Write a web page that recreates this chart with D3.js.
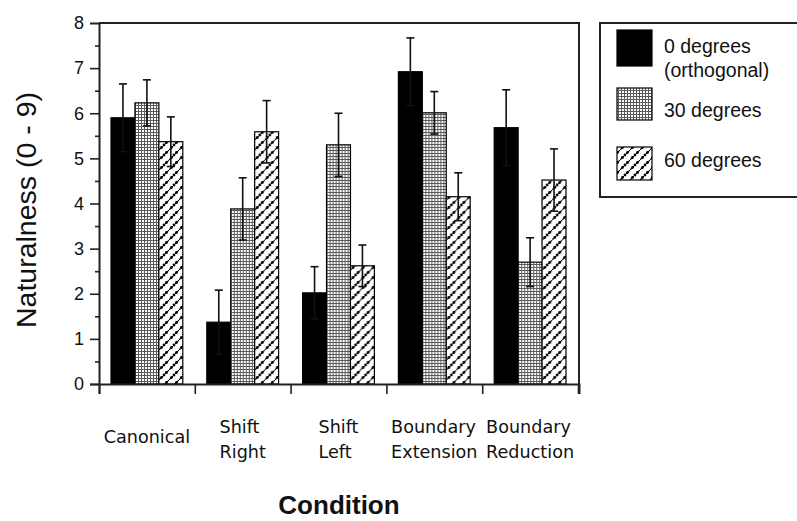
<!DOCTYPE html>
<html>
<head>
<meta charset="utf-8">
<script src="https://cdn.jsdelivr.net/npm/d3@7"></script>
<style>
  body { margin: 0; background: #fff; }
  text { fill: #111; }
</style>
</head>
<body>
<div id="chart"></div>
<script>
// data
const categories = ["Canonical", "Shift Right", "Shift Left", "Boundary Extension", "Boundary Reduction"];
const categoryLines = [["Canonical"], ["Shift", "Right"], ["Shift", "Left"], ["Boundary", "Extension"], ["Boundary", "Reduction"]];
const seriesNames = ["0 degrees", "30 degrees", "60 degrees"];
const legendLines = [["0 degrees", "(orthogonal)"], ["30 degrees"], ["60 degrees"]];

const means0 = [5.90, 1.37, 2.02, 6.92, 5.68];
const errs0 = [0.75, 0.71, 0.58, 0.75, 0.84];
const means30 = [6.23, 3.88, 5.30, 6.01, 2.70];
const errs30 = [0.51, 0.69, 0.70, 0.47, 0.54];
const means60 = [5.37, 5.59, 2.62, 4.15, 4.52];
const errs60 = [0.55, 0.69, 0.46, 0.53, 0.69];

const yTicks = [0, 1, 2, 3, 4, 5, 6, 7, 8];

const width = 797;
const height = 521;
const margin = {left: 99, right: 218, top: 23, bottom: 137};

let svg = d3.select('#chart')
    .append('svg')
    .attr('width', width)
    .attr('height', height);

// fill patterns
let defs = svg.append('defs');

let grid = defs.append('pattern')
    .attr('id', 'grid')
    .attr('patternUnits', 'userSpaceOnUse')
    .attr('width', 3)
    .attr('height', 3);
grid.append('rect').attr('width', 3).attr('height', 3).attr('fill', '#5a5a5a');
grid.append('rect').attr('x', 1).attr('y', 1).attr('width', 2).attr('height', 2).attr('fill', '#fff');

let hatch = defs.append('pattern')
    .attr('id', 'hatch')
    .attr('patternUnits', 'userSpaceOnUse')
    .attr('width', 10)
    .attr('height', 10);
hatch.append('rect').attr('width', 10).attr('height', 10).attr('fill', '#fff');
hatch.append('path')
    .attr('d', 'M-1,11 L11,-1 M-6,6 L6,-6 M4,16 L16,4')
    .attr('stroke', '#000')
    .attr('stroke-width', 1);
[[2.5, 7.5], [7.5, 2.5], [0, 10], [10, 0], [5, 5]].forEach(function(p) {
    hatch.append('circle').attr('cx', p[0]).attr('cy', p[1]).attr('r', 1.4).attr('fill', '#000');
});

const fills = ['#000', 'url(#grid)', 'url(#hatch)'];

// table built from the arrays
let table = categories.map(function(c, i) {
    return {
        category: c,
        lines: categoryLines[i],
        values: [
            {series: 0, mean: means0[i], err: errs0[i]},
            {series: 1, mean: means30[i], err: errs30[i]},
            {series: 2, mean: means60[i], err: errs60[i]}
        ]
    };
});

let x0 = d3.scaleBand()
    .domain(categories)
    .range([margin.left, width - margin.right - 1]);

let x1 = d3.scaleBand()
    .domain([0, 1, 2])
    .range([12, x0.bandwidth() - 12]);

let y = d3.scaleLinear()
    .domain([0, 8])
    .range([height - margin.bottom, margin.top]);

// bars
let groups = svg.append('g')
    .selectAll('g')
    .data(table)
    .join('g')
    .attr('transform', d => `translate(${x0(d.category)},0)`);

groups.selectAll('rect')
    .data(d => d.values)
    .join('rect')
    .attr('x', d => x1(d.series))
    .attr('y', d => y(d.mean))
    .attr('width', x1.bandwidth())
    .attr('height', d => y(0) - y(d.mean))
    .attr('fill', d => fills[d.series])
    .attr('stroke', '#000')
    .attr('stroke-width', 1.2);

// error bars
let eb = groups.selectAll('.err')
    .data(d => d.values)
    .join('g')
    .attr('class', 'err')
    .attr('stroke', '#111')
    .attr('stroke-width', 1.6);

eb.append('line')
    .attr('x1', d => x1(d.series) + x1.bandwidth() / 2)
    .attr('x2', d => x1(d.series) + x1.bandwidth() / 2)
    .attr('y1', d => y(d.mean - d.err))
    .attr('y2', d => y(d.mean + d.err));

eb.append('line')
    .attr('x1', d => x1(d.series) + x1.bandwidth() / 2 - 4)
    .attr('x2', d => x1(d.series) + x1.bandwidth() / 2 + 4)
    .attr('y1', d => y(d.mean + d.err))
    .attr('y2', d => y(d.mean + d.err));

eb.append('line')
    .attr('x1', d => x1(d.series) + x1.bandwidth() / 2 - 4)
    .attr('x2', d => x1(d.series) + x1.bandwidth() / 2 + 4)
    .attr('y1', d => y(d.mean - d.err))
    .attr('y2', d => y(d.mean - d.err));

// frame (top and right)
svg.append('path')
    .attr('d', `M${margin.left},${y(8)} H${width - margin.right} V${y(0)}`)
    .attr('fill', 'none')
    .attr('stroke', '#222')
    .attr('stroke-width', 2);

// y axis
let yAxis = svg.append('g')
    .attr('transform', `translate(${margin.left},0)`)
    .call(d3.axisLeft(y).tickValues(yTicks).tickSize(9).tickPadding(6).tickFormat(d3.format('d')));

yAxis.selectAll('.tick').filter(d => d === 8).select('line').remove();

svg.append('g')
    .attr('transform', `translate(${margin.left},0)`)
    .call(d3.axisLeft(y).tickValues(d3.range(0.5, 8, 1)).tickSize(4).tickFormat(''))
    .select('.domain').remove();

// x axis
let xTickPos = categories.map(c => x0(c)).concat([x0.range()[1]]);
let xAxis = svg.append('g')
    .attr('transform', `translate(0,${y(0)})`)
    .call(d3.axisBottom(d3.scaleLinear().domain([margin.left, width - margin.right]).range([margin.left, width - margin.right]))
        .tickValues(xTickPos).tickSize(10).tickFormat(''));

svg.selectAll('.domain').attr('stroke', '#222').attr('stroke-width', 2);
svg.selectAll('.tick line').attr('stroke', '#222').attr('stroke-width', 1.6);
yAxis.selectAll('text')
    .attr('font-family', 'Liberation Sans, Arial, sans-serif')
    .attr('font-size', 18)
    .attr('fill', '#111');

// category labels, left aligned lines centred on the band
let catLabels = svg.append('g')
    .selectAll('text')
    .data(table)
    .join('text')
    .attr('font-family', 'DejaVu Sans, sans-serif')
    .attr('font-size', 17.6)
    .attr('y', d => d.lines.length === 1 ? 443 : 433);

catLabels.selectAll('tspan')
    .data(d => d.lines)
    .join('tspan')
    .attr('dy', (d, i) => i === 0 ? 0 : 25)
    .text(d => d);

catLabels.each(function(d) {
    let t = d3.select(this);
    let w = d3.max(t.selectAll('tspan').nodes(), n => n.getComputedTextLength());
    let left = x0(d.category) + x0.bandwidth() / 2 - w / 2;
    t.attr('x', left);
    t.selectAll('tspan').attr('x', left);
});

// axis titles
svg.append('text')
    .attr('transform', `translate(36,210) rotate(-90)`)
    .attr('text-anchor', 'middle')
    .attr('font-family', 'Liberation Sans, Arial, sans-serif')
    .attr('font-size', 28.5)
    .text('Naturalness (0 - 9)');

svg.append('text')
    .attr('x', (margin.left + width - margin.right) / 2)
    .attr('y', 514)
    .attr('text-anchor', 'middle')
    .attr('font-family', 'Liberation Sans, Arial, sans-serif')
    .attr('font-weight', 'bold')
    .attr('font-size', 26)
    .text('Condition');

// legend
let legend = svg.append('g');

legend.append('rect')
    .attr('x', 600)
    .attr('y', 23)
    .attr('width', 220)
    .attr('height', 174)
    .attr('fill', '#fff')
    .attr('stroke', '#222')
    .attr('stroke-width', 2);

const swatchY = [30, 88, 147];
const swatchH = [36, 32, 33];
const textY = [53, 117, 167];

let items = legend.selectAll('.item')
    .data(seriesNames)
    .join('g')
    .attr('class', 'item');

items.append('rect')
    .attr('x', 617)
    .attr('y', (d, i) => swatchY[i])
    .attr('width', 35)
    .attr('height', (d, i) => swatchH[i])
    .attr('fill', (d, i) => fills[i])
    .attr('stroke', '#000')
    .attr('stroke-width', 1.2);

items.append('text')
    .attr('x', 664)
    .attr('y', (d, i) => textY[i])
    .attr('font-family', 'Liberation Sans, Arial, sans-serif')
    .attr('font-size', 19.5)
    .selectAll('tspan')
    .data((d, i) => legendLines[i])
    .join('tspan')
    .attr('x', 664)
    .attr('dy', (d, i) => i === 0 ? 0 : 24)
    .text(d => d);
</script>
</body>
</html>
